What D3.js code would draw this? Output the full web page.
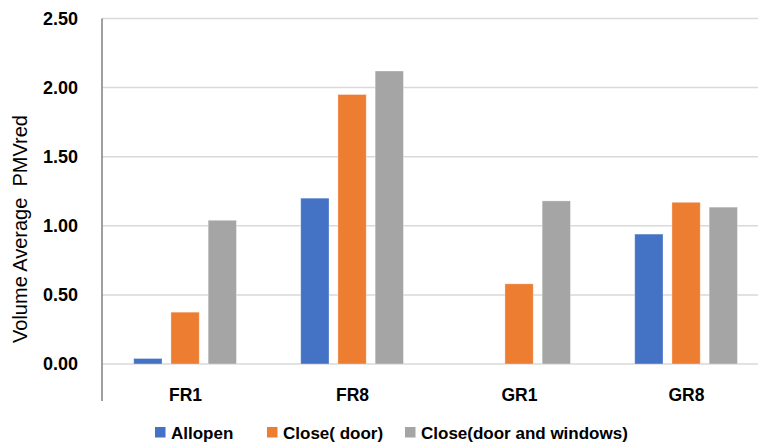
<!DOCTYPE html>
<html lang="en">
<head>
  <meta charset="UTF-8">
  <title>Volume Average PMVred</title>
  <script src="https://d3js.org/d3.v7.min.js"></script>
  <style>
    body { margin: 0; background: #fff; font-family: "Liberation Sans", Arial, sans-serif; }
    .tick-label { font-size: 18px; font-weight: bold; fill: #000; }
    .cat-label { font-size: 17.5px; font-weight: bold; fill: #000; }
    .axis-title { font-size: 20px; fill: #000; white-space: pre; }
    .legend-text { font-size: 17px; font-weight: bold; fill: #000; }
  </style>
</head>
<body>
  <script>
    // data
    const categories = ["FR1", "FR8", "GR1", "GR8"];
    const series = ["Allopen", "Close( door)", "Close(door and windows)"];
    const allopen = [0.04, 1.20, 0, 0.94];
    const closeDoor = [0.375, 1.95, 0.58, 1.17];
    const closeDoorWindows = [1.04, 2.12, 1.18, 1.135];
    const yTicks = [0, 0.5, 1.0, 1.5, 2.0, 2.5];
    const colors = ["#4472C4", "#ED7D31", "#A5A5A5"];

    const values = [allopen, closeDoor, closeDoorWindows];

    const W = 758, H = 443;
    const plotLeft = 102, plotRight = 770, plotTop = 18.5, plotBottom = 364;

    const svg = d3.select("body").append("svg")
      .attr("width", W).attr("height", H);

    const x0 = d3.scaleBand().domain(categories).range([plotLeft, plotRight]);
    const bw = x0.bandwidth();
    const x1 = d3.scaleBand().domain(series)
      .range([bw * 0.19, bw * 0.805]).paddingInner(0.24);
    const y = d3.scaleLinear().domain([0, 2.5]).range([plotBottom, plotTop]);

    // gridlines
    svg.append("g").selectAll("line")
      .data(yTicks).join("line")
      .attr("x1", plotLeft).attr("x2", W)
      .attr("y1", d => y(d)).attr("y2", d => y(d))
      .attr("stroke", "#d9d9d9").attr("stroke-width", 1.5);

    // y axis labels
    const yAxis = svg.append("g")
      .attr("transform", `translate(${plotLeft - 21},0)`)
      .call(d3.axisLeft(y).tickValues(yTicks).tickSize(0).tickFormat(d3.format(".2f")));
    yAxis.select(".domain").remove();
    yAxis.attr("font-family", null).attr("font-size", null);
    yAxis.selectAll("text").attr("class", "tick-label");

    // bars
    const groups = svg.append("g").selectAll("g")
      .data(categories).join("g")
      .attr("transform", d => `translate(${x0(d)},0)`);

    groups.selectAll("rect")
      .data((c, i) => series.map((s, j) => ({ s, j, v: values[j][i] })).filter(d => d.v > 0))
      .join("rect")
      .attr("x", d => x1(d.s))
      .attr("width", x1.bandwidth())
      .attr("y", d => y(d.v))
      .attr("height", d => y(0) - y(d.v))
      .attr("fill", d => colors[d.j])
      .attr("stroke", "#fff")
      .attr("stroke-opacity", 0.4)
      .attr("stroke-width", 0.8);

    // left axis line
    svg.append("line")
      .attr("x1", plotLeft).attr("x2", plotLeft)
      .attr("y1", y(2.5)).attr("y2", 401)
      .attr("stroke", "#7f7f7f").attr("stroke-width", 1.5);

    // category labels
    svg.append("g").selectAll("text")
      .data(categories).join("text")
      .attr("class", "cat-label")
      .attr("x", d => x0(d) + bw / 2)
      .attr("y", 401)
      .attr("text-anchor", "middle")
      .text(d => d);

    // y title
    svg.append("text")
      .attr("class", "axis-title")
      .attr("transform", "translate(27,229) rotate(-90)")
      .attr("text-anchor", "middle")
      .text("Volume Average  PMVred");

    // legend
    const legendX = [155, 267, 405];
    const legend = svg.append("g").selectAll("g")
      .data(series).join("g")
      .attr("transform", (d, i) => `translate(${legendX[i]},427)`);
    legend.append("rect")
      .attr("width", 10.5).attr("height", 10.5)
      .attr("fill", (d, i) => colors[i]);
    legend.append("text")
      .attr("class", "legend-text")
      .attr("x", 16).attr("y", 11.5)
      .text(d => d);
  </script>
</body>
</html>
